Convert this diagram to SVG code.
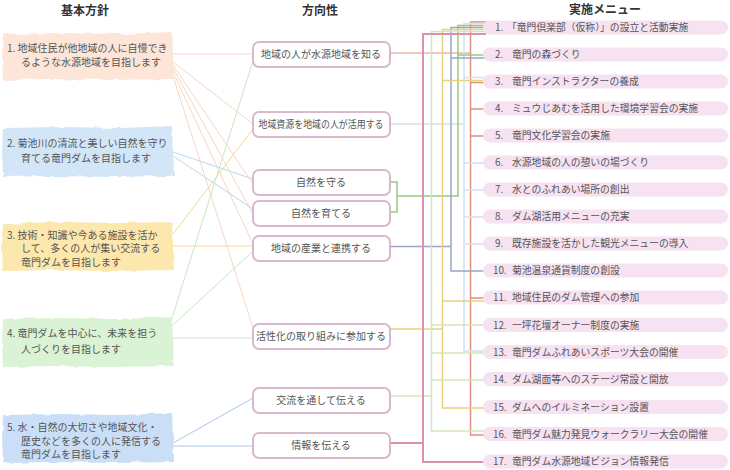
<svg xmlns="http://www.w3.org/2000/svg" width="730" height="470" viewBox="0 0 730 470">
<defs>
<filter id="rough" x="-5%" y="-15%" width="110%" height="130%">
<feTurbulence type="fractalNoise" baseFrequency="0.07" numOctaves="2" seed="4" result="n"/>
<feDisplacementMap in="SourceGraphic" in2="n" scale="4" xChannelSelector="R" yChannelSelector="G"/>
</filter>
</defs>
<style>
text{font-family:"Noto Sans CJK JP","Noto Sans",sans-serif;fill:#555;}
.h{font-size:12px;font-weight:bold;fill:#333;text-anchor:middle;}
.lt{font-size:10px;}
.mt{font-size:10px;text-anchor:middle;}
.rt{font-size:9.8px;}
.mid rect{fill:#fff;stroke:#dab8cc;stroke-width:2;}
.pill{fill:#f6e2f1;}
.c{fill:none;stroke-width:1;}
.b{fill:none;stroke-width:1.5;}
</style>
<rect width="730" height="470" fill="#fff"/>
<text class="h" x="85" y="15">基本方針</text>
<text class="h" x="320" y="15">方向性</text>
<text class="h" x="605" y="14">実施メニュー</text>

<g id="connectors">
<g id="left-connectors">
<path class="c" stroke="#f7d6c3" d="M173,54H253M173,62L253,124M173,65L253,184M173,68L253,214M173,72L253,244M173,76L253,328"/>
<path class="c" stroke="#bcd6ee" d="M173,152L253,179M173,156L253,209"/>
<path class="c" stroke="#f1da94" d="M173,234L253,129M173,246H253"/>
<path class="c" stroke="#c6e7c2" d="M172,318L253,61M173,325L253,251M173,338H253"/>
<path class="c" stroke="#aac6e8" d="M173,443L253,398M173,446H253"/>
</g>
<g id="bus">
<path class="b" stroke="#e8b7a8" d="M390,53H470.5"/>
<path class="b" stroke="#dd907f" d="M486,22H470.5V435H486M470.5,82.5H486M470.5,109H486M470.5,136H486M470.5,298H486"/>
<path class="b" stroke="#d6e0f0" d="M390,124H464M486,23.5H464V351H486M464,77.5H486M464,163H486M464,190H486M464,217H486M464,244H486"/>
<path class="b" stroke="#97c983" d="M390,182H397V212H390M397,196H458V25.5H486M458,55H486"/>
<path class="b" stroke="#9ba5c4" d="M390,246.5H451M486,27.5H451V271H486M451,58H486"/>
<path class="b" stroke="#e8d17e" d="M390,329H442.5M486,29.5H442.5V408H486M442.5,80.5H486M442.5,301H486"/>
<path class="b" stroke="#cfe8bd" d="M390,396H431.5M486,31.5H431.5V431H486M431.5,325H486M431.5,353H486M431.5,380H486"/>
<path fill="none" stroke="#dc8fb0" stroke-width="2" d="M390,443H423M486,34H423V462H486"/>
</g>
</g>

<g id="policy1"><path filter="url(#rough)" fill="#fde6d8" d="M3,34L60,33L120,34L172,32L173,55L174,79L110,80L50,79L3,80L2,57Z"/>
<text class="lt" x="7" y="52">1. 地域住民が他地域の人に自慢でき</text><text class="lt" x="21" y="66">るような水源地域を目指します</text></g>
<g id="policy2"><path filter="url(#rough)" fill="#d3e6f8" d="M3,128L60,127L120,128L172,126L173,150L174,176L110,177L50,176L3,177L2,152Z"/>
<text class="lt" x="7" y="147">2. 菊池川の清流と美しい自然を守り</text><text class="lt" x="21" y="162">育てる竜門ダムを目指します</text></g>
<g id="policy3"><path filter="url(#rough)" fill="#fce8ac" d="M3,224L60,222L120,223L172,222L173,246L174,270L110,271L50,270L3,271L2,247Z"/>
<text class="lt" x="7" y="238.5">3. 技術・知識や今ある施設を活か</text><text class="lt" x="21" y="252">して、多くの人が集い交流する</text><text class="lt" x="21" y="265.5">竜門ダムを目指します</text></g>
<g id="policy4"><path filter="url(#rough)" fill="#daf3d4" d="M3,319L60,318L120,319L172,317L173,342L174,366L110,367L50,366L3,367L2,342Z"/>
<text class="lt" x="7" y="337">4. 竜門ダムを中心に、未来を担う</text><text class="lt" x="21" y="353">人づくりを目指します</text></g>
<g id="policy5"><path filter="url(#rough)" fill="#cadff7" d="M3,415L60,414L120,415L172,413L173,438L174,462L110,463L50,462L3,463L2,438Z"/>
<text class="lt" x="7" y="431">5. 水・自然の大切さや地域文化・</text><text class="lt" x="21" y="444.5">歴史などを多くの人に発信する</text><text class="lt" x="21" y="458">竜門ダムを目指します</text></g>

<g class="mid">
<g id="dir1"><rect x="253" y="42" width="137" height="25" rx="6"/><text class="mt" x="321" y="58">地域の人が水源地域を知る</text></g>
<g id="dir2"><rect x="253" y="112" width="137" height="25" rx="6"/><text class="mt" x="321" y="128" textLength="125" lengthAdjust="spacingAndGlyphs">地域資源を地域の人が活用する</text></g>
<g id="dir3"><rect x="253" y="170" width="137" height="25" rx="6"/><text class="mt" x="321" y="186">自然を守る</text></g>
<g id="dir4"><rect x="253" y="201" width="137" height="25" rx="6"/><text class="mt" x="321" y="217">自然を育てる</text></g>
<g id="dir5"><rect x="253" y="236" width="137" height="25" rx="6"/><text class="mt" x="321" y="252">地域の産業と連携する</text></g>
<g id="dir6"><rect x="253" y="324" width="137" height="25" rx="6"/><text class="mt" x="321" y="340">活性化の取り組みに参加する</text></g>
<g id="dir7"><rect x="253" y="388" width="137" height="25" rx="6"/><text class="mt" x="321" y="404">交流を通して伝える</text></g>
<g id="dir8"><rect x="253" y="433" width="137" height="25" rx="6"/><text class="mt" x="321" y="449">情報を伝える</text></g>
</g>

<g id="menu">
<g id="m1"><rect class="pill" x="483" y="20.5" width="245" height="14" rx="7"/><text class="rt" x="495" y="31">1.<tspan x="507">「竜門倶楽部（仮称）」の設立と活動実施</tspan></text></g>
<g id="m2"><rect class="pill" x="483" y="47.5" width="245" height="14" rx="7"/><text class="rt" x="495" y="58">2.<tspan x="512">竜門の森づくり</tspan></text></g>
<g id="m3"><rect class="pill" x="483" y="74.5" width="245" height="14" rx="7"/><text class="rt" x="495" y="85">3.<tspan x="512">竜門インストラクターの養成</tspan></text></g>
<g id="m4"><rect class="pill" x="483" y="101.5" width="245" height="14" rx="7"/><text class="rt" x="495" y="112">4.<tspan x="512">ミュウじあむを活用した環境学習会の実施</tspan></text></g>
<g id="m5"><rect class="pill" x="483" y="128.5" width="245" height="14" rx="7"/><text class="rt" x="495" y="139">5.<tspan x="512">竜門文化学習会の実施</tspan></text></g>
<g id="m6"><rect class="pill" x="483" y="155.5" width="245" height="14" rx="7"/><text class="rt" x="495" y="166">6.<tspan x="512">水源地域の人の憩いの場づくり</tspan></text></g>
<g id="m7"><rect class="pill" x="483" y="182.5" width="245" height="14" rx="7"/><text class="rt" x="495" y="193">7.<tspan x="512">水とのふれあい場所の創出</tspan></text></g>
<g id="m8"><rect class="pill" x="483" y="209.5" width="245" height="14" rx="7"/><text class="rt" x="495" y="220">8.<tspan x="512">ダム湖活用メニューの充実</tspan></text></g>
<g id="m9"><rect class="pill" x="483" y="236.5" width="245" height="14" rx="7"/><text class="rt" x="495" y="247">9.<tspan x="512">既存施設を活かした観光メニューの導入</tspan></text></g>
<g id="m10"><rect class="pill" x="483" y="263.5" width="245" height="14" rx="7"/><text class="rt" x="493" y="274">10.<tspan x="512">菊池温泉通貨制度の創設</tspan></text></g>
<g id="m11"><rect class="pill" x="483" y="290.5" width="245" height="14" rx="7"/><text class="rt" x="493" y="301">11.<tspan x="512">地域住民のダム管理への参加</tspan></text></g>
<g id="m12"><rect class="pill" x="483" y="318" width="245" height="14" rx="7"/><text class="rt" x="493" y="328.5">12.<tspan x="512">一坪花壇オーナー制度の実施</tspan></text></g>
<g id="m13"><rect class="pill" x="483" y="345" width="245" height="14" rx="7"/><text class="rt" x="493" y="355.5">13.<tspan x="512">竜門ダムふれあいスポーツ大会の開催</tspan></text></g>
<g id="m14"><rect class="pill" x="483" y="372" width="245" height="14" rx="7"/><text class="rt" x="493" y="382.5">14.<tspan x="512">ダム湖面等へのステージ常設と開放</tspan></text></g>
<g id="m15"><rect class="pill" x="483" y="400" width="245" height="14" rx="7"/><text class="rt" x="493" y="410.5">15.<tspan x="512">ダムへのイルミネーション設置</tspan></text></g>
<g id="m16"><rect class="pill" x="483" y="427" width="245" height="14" rx="7"/><text class="rt" x="493" y="437.5">16.<tspan x="512">竜門ダム魅力発見ウォークラリー大会の開催</tspan></text></g>
<g id="m17"><rect class="pill" x="483" y="454.5" width="245" height="14" rx="7"/><text class="rt" x="493" y="465">17.<tspan x="512">竜門ダム水源地域ビジョン情報発信</tspan></text></g>
</g>
</svg>
